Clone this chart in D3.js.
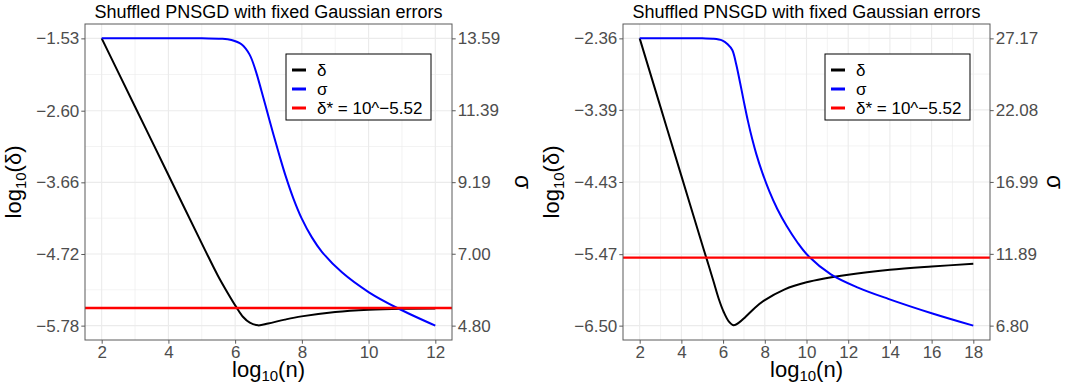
<!DOCTYPE html>
<html>
<head>
<meta charset="utf-8">
<script src="https://cdn.jsdelivr.net/npm/d3@7"></script>
<style>
  body { margin: 0; background: #fff; }
  svg text { font-family: "Liberation Sans", Arial, sans-serif; }
</style>
</head>
<body>
<div class="chart"></div>
<script>
// chart size
const WIDTH = 1067, HEIGHT = 385;

// ---- left panel data ----
const leftDeltaX = [2, 3, 4, 5.08, 5.48, 5.79, 6.04, 6.24, 6.44, 6.69, 6.99, 7.49, 7.99, 9.0, 10.0, 11.0, 12.0];
const leftDelta = [-1.53, -2.541, -3.552, -4.644, -5.038, -5.308, -5.51, -5.652, -5.736, -5.776, -5.748, -5.691, -5.643, -5.578, -5.544, -5.529, -5.525];
const leftSigmaX = [2, 5.0, 5.58, 5.89, 6.19, 6.43, 6.61, 6.79, 6.97, 7.15, 7.33, 7.51, 7.75, 7.99, 8.30, 8.60, 9.20, 10.01, 10.86, 12.0];
const leftSigma = [13.59, 13.59, 13.58, 13.54, 13.41, 13.10, 12.62, 11.98, 11.31, 10.64, 10.0, 9.39, 8.68, 8.09, 7.50, 7.06, 6.43, 5.82, 5.34, 4.80];
const leftDeltaTicks = [-1.53, -2.60, -3.66, -4.72, -5.78];
const leftSigmaTicks = [13.59, 11.39, 9.19, 7.00, 4.80];
const leftXTicks = [2, 4, 6, 8, 10, 12];

// ---- right panel data ----
const rightDeltaX = [2, 3, 4, 5.06, 5.31, 5.55, 5.79, 6.03, 6.27, 6.51, 6.76, 7.07, 7.48, 7.96, 8.93, 10.0, 12.0, 14.0, 16.0, 18.0];
const rightDelta = [-2.36, -3.351, -4.342, -5.393, -5.633, -5.872, -6.112, -6.303, -6.438, -6.495, -6.457, -6.375, -6.256, -6.14, -5.98, -5.875, -5.767, -5.695, -5.648, -5.609];
const rightSigmaX = [2, 5.0, 5.51, 5.95, 6.22, 6.44, 6.62, 6.82, 7.01, 7.20, 7.40, 7.59, 7.88, 8.22, 8.60, 9.05, 9.55, 10.10, 11.17, 12.47, 13.92, 16.0, 18.0];
const rightSigma = [27.17, 27.17, 27.15, 27.03, 26.75, 26.34, 25.39, 23.99, 22.58, 21.25, 20.01, 18.98, 17.65, 16.32, 15.07, 13.86, 12.73, 11.72, 10.44, 9.50, 8.70, 7.68, 6.80];
const rightDeltaTicks = [-2.36, -3.39, -4.43, -5.47, -6.50];
const rightSigmaTicks = [27.17, 22.08, 16.99, 11.89, 6.80];
const rightXTicks = [2, 4, 6, 8, 10, 12, 14, 16, 18];

const deltaStar = -5.52;
const titleText = "Shuffled PNSGD with fixed Gaussian errors";
const legendLabels = ["δ", "σ", "δ* = 10^−5.52"];
const legendColors = ["#000000", "#0000ff", "#ff0000"];

const svg = d3.select(".chart")
  .append("svg")
  .attr("width", WIDTH)
  .attr("height", HEIGHT);

function pad(ext) {
  const r = ext[1] - ext[0];
  return [ext[0] - 0.05 * r, ext[1] + 0.05 * r];
}

function drawPanel(p) {
  const g = svg.append("g");
  const xDom = d3.extent(p.xTicks);
  const dDom = d3.extent(p.deltaTicks);
  const sDom = d3.extent(p.sigmaTicks);

  const x = d3.scaleLinear().domain(pad(xDom)).range([p.left, p.right]);
  const y = d3.scaleLinear().domain(pad(dDom)).range([p.bottom, p.top]);
  // secondary axis shares the pixel range of the delta range
  const ys = d3.scaleLinear().domain(sDom).range([y(dDom[0]), y(dDom[1])]);

  // grid - minor
  const xMinor = [];
  for (let v = xDom[0] - 1; v <= xDom[1] + 1; v += 2) {
    if (v > x.domain()[0] && v < x.domain()[1]) xMinor.push(v);
  }
  const dSorted = p.deltaTicks.slice().sort((a, b) => a - b);
  const yMinor = [];
  for (let i = 0; i < dSorted.length - 1; i++) yMinor.push((dSorted[i] + dSorted[i + 1]) / 2);

  g.selectAll(".xminor").data(xMinor).enter().append("line")
    .attr("x1", d => x(d)).attr("x2", d => x(d))
    .attr("y1", p.top).attr("y2", p.bottom)
    .attr("stroke", "#ebebeb").attr("stroke-width", 0.6);
  g.selectAll(".yminor").data(yMinor).enter().append("line")
    .attr("y1", d => y(d)).attr("y2", d => y(d))
    .attr("x1", p.left).attr("x2", p.right)
    .attr("stroke", "#ebebeb").attr("stroke-width", 0.6);
  // grid - major
  g.selectAll(".xmajor").data(p.xTicks).enter().append("line")
    .attr("x1", d => x(d)).attr("x2", d => x(d))
    .attr("y1", p.top).attr("y2", p.bottom)
    .attr("stroke", "#ebebeb").attr("stroke-width", 1.1);
  g.selectAll(".ymajor").data(p.deltaTicks).enter().append("line")
    .attr("y1", d => y(d)).attr("y2", d => y(d))
    .attr("x1", p.left).attr("x2", p.right)
    .attr("stroke", "#ebebeb").attr("stroke-width", 1.1);

  // curves
  const dLine = d3.line().x(d => x(d[0])).y(d => y(d[1])).curve(d3.curveCatmullRom.alpha(0.5));
  const sLine = d3.line().x(d => x(d[0])).y(d => ys(d[1])).curve(d3.curveCatmullRom.alpha(0.5));

  g.append("path")
    .datum(d3.zip(p.deltaX, p.delta))
    .attr("d", dLine)
    .attr("fill", "none").attr("stroke", "#000").attr("stroke-width", 2);
  g.append("path")
    .datum(d3.zip(p.sigmaX, p.sigma))
    .attr("d", sLine)
    .attr("fill", "none").attr("stroke", "#0000ff").attr("stroke-width", 2);
  g.append("line")
    .attr("x1", p.left).attr("x2", p.right)
    .attr("y1", y(deltaStar)).attr("y2", y(deltaStar))
    .attr("stroke", "#ff0000").attr("stroke-width", 2.4);

  // border
  g.append("rect")
    .attr("x", p.left).attr("y", p.top)
    .attr("width", p.right - p.left).attr("height", p.bottom - p.top)
    .attr("fill", "none").attr("stroke", "#5a5a5a").attr("stroke-width", 1);

  // axes
  const fmt = d3.format(".2f");
  const xAxis = g.append("g").attr("transform", "translate(0," + p.bottom + ")")
    .call(d3.axisBottom(x).tickValues(p.xTicks).tickSize(3.7).tickPadding(2).tickFormat(d3.format("d")));
  const yAxis = g.append("g").attr("transform", "translate(" + p.left + ",0)")
    .call(d3.axisLeft(y).tickValues(p.deltaTicks).tickSize(3.7).tickPadding(2).tickFormat(d => fmt(d).replace("-", "−")));
  const sAxis = g.append("g").attr("transform", "translate(" + p.right + ",0)")
    .call(d3.axisRight(ys).tickValues(p.sigmaTicks).tickSize(3.7).tickPadding(2).tickFormat(fmt));
  [xAxis, yAxis, sAxis].forEach(a => {
    a.select(".domain").remove();
    a.selectAll(".tick line").attr("stroke", "#5a5a5a");
    a.selectAll(".tick text").attr("fill", "#4d4d4d").style("font-size", "17px")
      .style("font-family", "'Liberation Sans', Arial, sans-serif");
  });

  // title
  g.append("text")
    .attr("x", (p.left + p.right) / 2).attr("y", 18)
    .attr("text-anchor", "middle")
    .style("font-size", "18px")
    .text(titleText);

  // x axis title
  const xt = g.append("text")
    .attr("x", (p.left + p.right) / 2).attr("y", 377)
    .attr("text-anchor", "middle")
    .style("font-size", "22px");
  xt.append("tspan").text("log");
  xt.append("tspan").attr("dy", 4).style("font-size", "15px").text("10");
  xt.append("tspan").attr("dy", -4).text("(n)");

  // left y title
  const yt = g.append("text")
    .attr("transform", "translate(" + (p.left - 64) + "," + ((p.top + p.bottom) / 2) + ") rotate(-90)")
    .attr("text-anchor", "middle")
    .style("font-size", "22px");
  yt.append("tspan").text("log");
  yt.append("tspan").attr("dy", 5).style("font-size", "15px").text("10");
  yt.append("tspan").attr("dy", -5).text("(δ)");

  // right sigma title
  g.append("text")
    .attr("transform", "translate(" + p.sigmaTitleX + "," + ((p.top + p.bottom) / 2) + ") rotate(90)")
    .attr("text-anchor", "middle")
    .style("font-size", "23px")
    .text("σ");

  // legend
  const lg = g.append("g").attr("transform", "translate(" + p.legendX + "," + 54 + ")");
  lg.append("rect")
    .attr("width", 145).attr("height", 66)
    .attr("fill", "#fff").attr("stroke", "#000").attr("stroke-width", 1);
  legendLabels.forEach((lab, i) => {
    const cy = 16 + i * 19;
    lg.append("line")
      .attr("x1", 6).attr("x2", 20).attr("y1", cy).attr("y2", cy)
      .attr("stroke", legendColors[i]).attr("stroke-width", 3);
    lg.append("text")
      .attr("x", 31).attr("y", cy + 6)
      .style("font-size", "17px")
      .text(lab);
  });
}

drawPanel({
  left: 85, right: 452, top: 24, bottom: 340,
  xTicks: leftXTicks, deltaTicks: leftDeltaTicks, sigmaTicks: leftSigmaTicks,
  deltaX: leftDeltaX, delta: leftDelta, sigmaX: leftSigmaX, sigma: leftSigma,
  legendX: 286, sigmaTitleX: 515
});

drawPanel({
  left: 623, right: 990, top: 24, bottom: 340,
  xTicks: rightXTicks, deltaTicks: rightDeltaTicks, sigmaTicks: rightSigmaTicks,
  deltaX: rightDeltaX, delta: rightDelta, sigmaX: rightSigmaX, sigma: rightSigma,
  legendX: 825, sigmaTitleX: 1047
});
</script>
</body>
</html>
